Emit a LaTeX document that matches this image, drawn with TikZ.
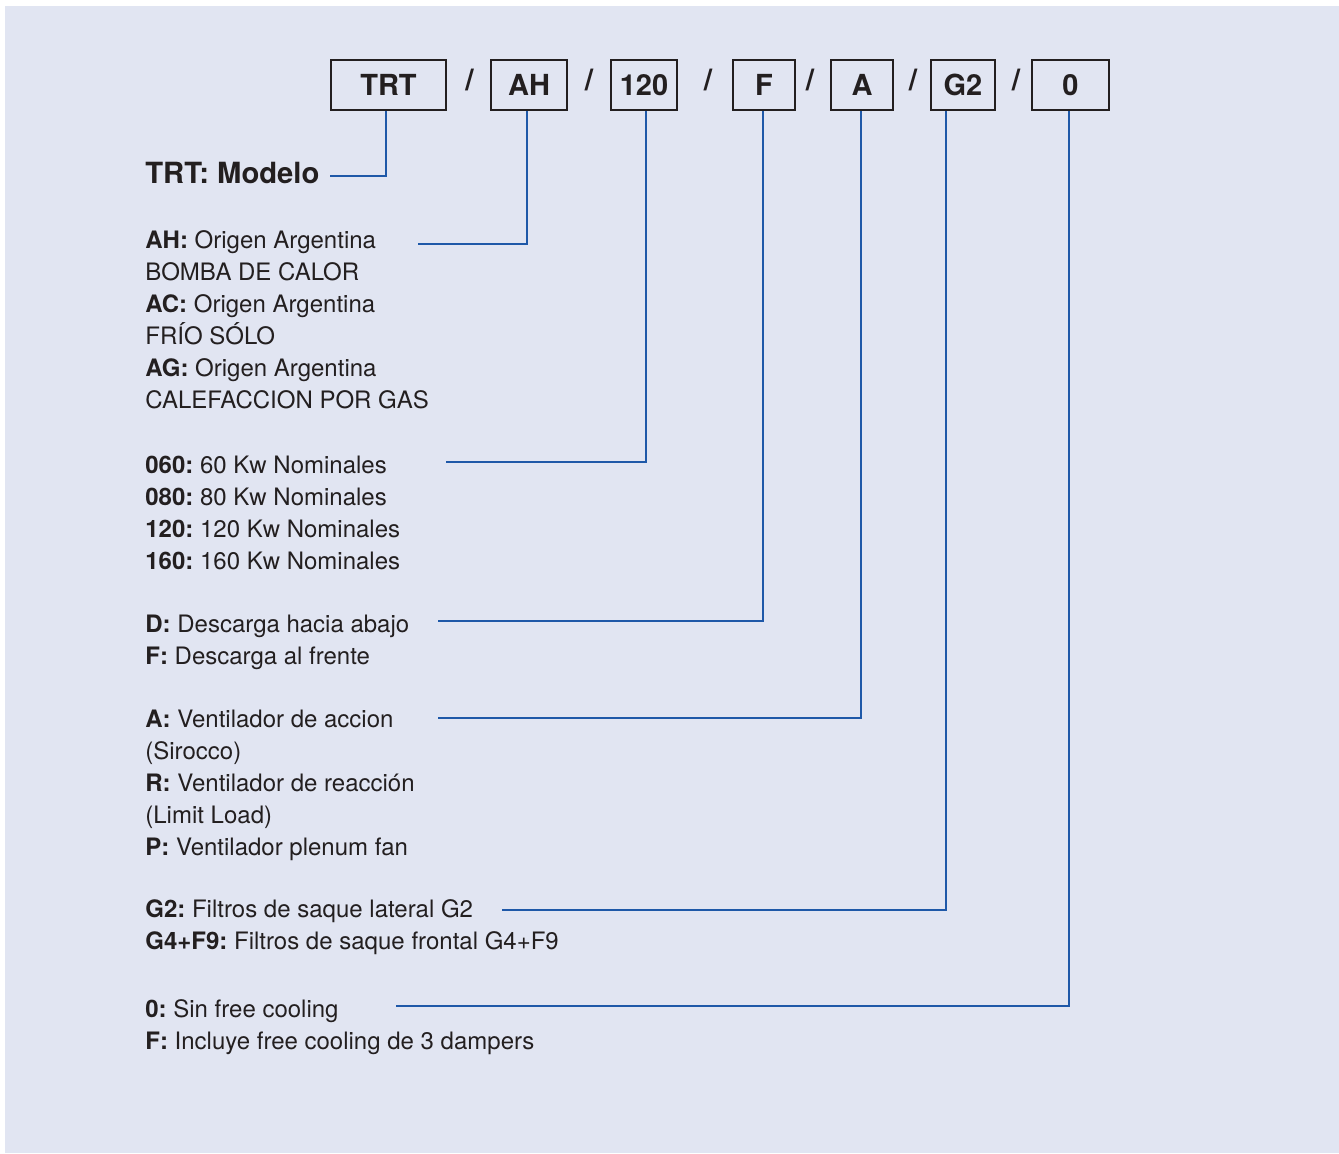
\documentclass[tikz,border=0pt]{standalone}
\usepackage{fontspec}
\setmainfont{TeX Gyre Heros}
\frenchspacing
\definecolor{fondo}{RGB}{225,229,242}
\definecolor{azul}{RGB}{30,88,168}
\definecolor{tinta}{RGB}{35,31,32}

\begin{document}
\begin{tikzpicture}[x=0.5pt,y=-0.5pt,
		casilla/.style = {draw=tinta,line width=1pt,minimum height=25pt,inner sep=0pt,text=tinta,font=\fontsize{14.5}{17}\selectfont\bfseries},
		barra/.style = {text=tinta,inner sep=0pt,font=\fontsize{15}{17}\selectfont\bfseries},
		texto/.style = {anchor=base west,align=left,inner sep=0pt,text=tinta,font=\fontsize{12}{16}\selectfont},
		linea/.style = {draw=azul,line width=1.4pt}]
		\useasboundingbox (0,0) rectangle (1339,1153);
		\fill[fondo] (5,6) rectangle (1339,1153);

		\node[casilla,minimum width=57.5pt] (TRT) at (388.5,85) {TRT};
		\node[casilla,minimum width=38pt] (AH) at (529,85) {AH};
		\node[casilla,minimum width=33pt] (C120) at (644,85) {120};
		\node[casilla,minimum width=31pt] (F) at (764,85) {F};
		\node[casilla,minimum width=31pt] (A) at (862,85) {A};
		\node[casilla,minimum width=32pt] (G2) at (963,85) {G2};
		\node[casilla,minimum width=38.5pt] (O) at (1070.5,85) {0};

		\node[barra] (s1) at (469.5,80) {/};
		\node[barra] (s2) at (589,80) {/};
		\node[barra] (s3) at (708,80) {/};
		\node[barra] (s4) at (810,80) {/};
		\node[barra] (s5) at (913,80) {/};
		\node[barra] (s6) at (1016,80) {/};

		% anchor = base of the last line of each group
		\node[texto,font=\fontsize{14.6}{17}\selectfont\bfseries] (modelo) at (145,183) {TRT: Modelo};
		\node[texto] (origen) at (145,408) {\textbf{AH:} Origen Argentina\\BOMBA DE CALOR\\\textbf{AC:} Origen Argentina\\FRÍO SÓLO\\\textbf{AG:} Origen Argentina\\CALEFACCION POR GAS};
		\node[texto] (potencia) at (145,569) {\textbf{060:} 60 Kw Nominales\\\textbf{080:} 80 Kw Nominales\\\textbf{120:} 120 Kw Nominales\\\textbf{160:} 160 Kw Nominales};
		\node[texto] (descarga) at (145,664) {\textbf{D:} Descarga hacia abajo\\\textbf{F:} Descarga al frente};
		\node[texto] (ventilador) at (145,855) {\textbf{A:} Ventilador de accion\\(Sirocco)\\\textbf{R:} Ventilador de reacción\\(Limit Load)\\\textbf{P:} Ventilador plenum fan};
		\node[texto] (filtros) at (145,949) {\textbf{G2:} Filtros de saque lateral G2\\\textbf{G4+F9:} Filtros de saque frontal G4+F9};
		\node[texto] (free) at (145,1049) {\textbf{0:} Sin free cooling\\\textbf{F:} Incluye free cooling de 3 dampers};

		\coordinate (eTRT) at (330,176);
		\coordinate (eAH) at (418,244);
		\coordinate (e120) at (446,462);
		\coordinate (eF) at (438,621);
		\coordinate (eA) at (438,718);
		\coordinate (eG2) at (502,910);
		\coordinate (eO) at (396,1006);

		\draw[linea] ([xshift=-1.25pt]TRT.south) |- (eTRT);
		\draw[linea] ([xshift=-1pt]AH.south) |- (eAH);
		\draw[linea] ([xshift=1pt]C120.south) |- (e120);
		\draw[linea] ([xshift=-0.5pt]F.south) |- (eF);
		\draw[linea] ([xshift=-0.5pt]A.south) |- (eA);
		\draw[linea] ([xshift=-8.5pt]G2.south) |- (eG2);
		\draw[linea] ([xshift=-0.75pt]O.south) |- (eO);
	\end{tikzpicture}
\end{document}
